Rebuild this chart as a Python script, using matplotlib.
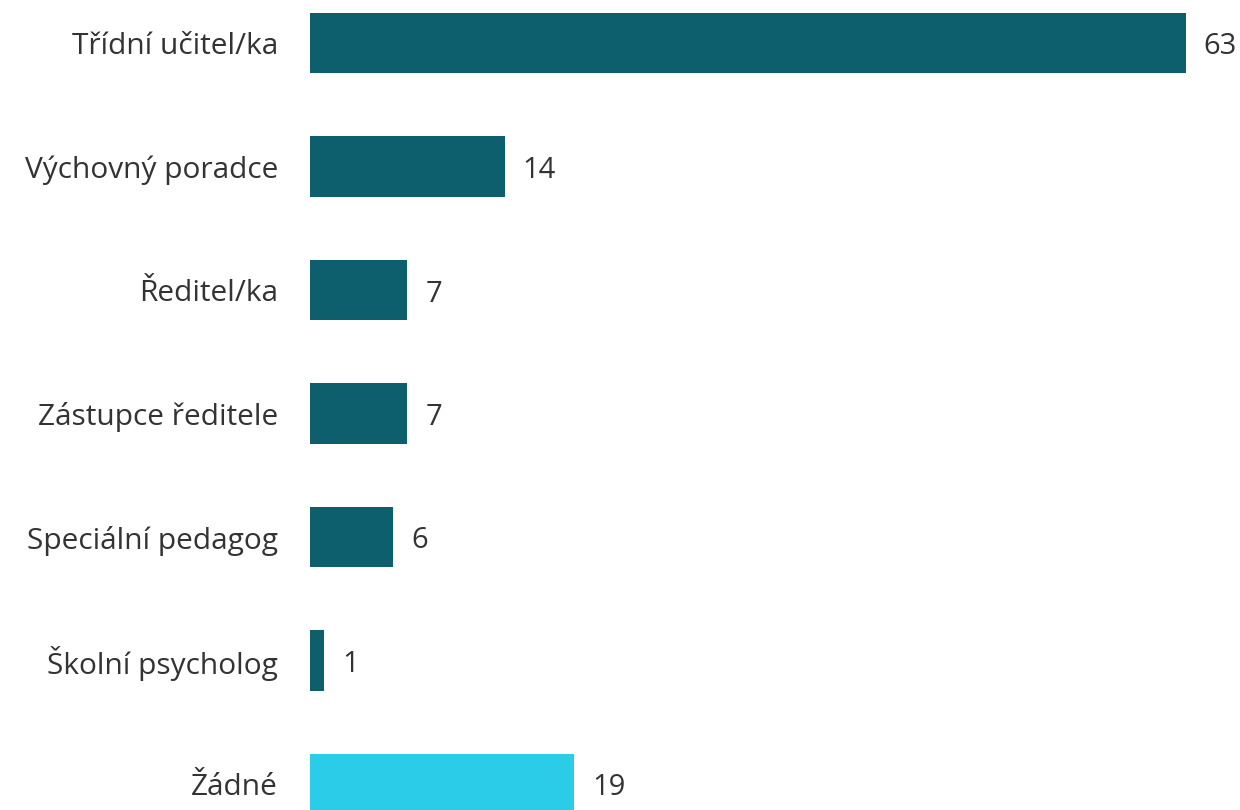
import matplotlib
matplotlib.use('Agg')
import matplotlib.pyplot as plt

categories = ['Třídní učitel/ka', 'Výchovný poradce', 'Ředitel/ka', 'Zástupce ředitele',
              'Speciální pedagog', 'Školní psycholog', 'Žádné']
values = [63, 14, 7, 7, 6, 1, 19]
colors = ['#0d5f6e'] * 6 + ['#2bcce8']

plt.rcParams['font.family'] = ['Open Sans', 'DejaVu Sans']

fig = plt.figure(figsize=(12.4, 8.1), dpi=100)
ax = fig.add_axes([310 / 1240, 0, 930 / 1240, 1])

pos = list(range(len(categories)))
ax.barh(pos, values, height=0.49, color=colors)

ax.set_xlim(0, 930 / 13.9)
ax.set_ylim((810 - 43) / 123.5, -43 / 123.5)

for p, v in zip(pos, values):
    ax.annotate(str(v), (v, p), xytext=(18, -4), textcoords='offset pixels',
                va='center', ha='left', fontsize=21, color='#333333')

ax.set_yticks(pos)
ax.set_yticklabels(categories, fontsize=21.5, color='#333333')
ax.tick_params(axis='y', length=0, pad=23)
ax.set_xticks([])
for s in ax.spines.values():
    s.set_visible(False)

fig.savefig('out.png', dpi=100)
